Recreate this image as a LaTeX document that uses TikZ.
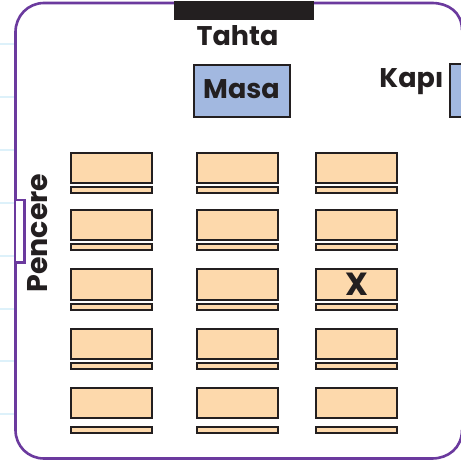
\documentclass[tikz,border=0pt]{standalone}
\usepackage{fontspec}
\setmainfont{Poppins}[BoldFont={Poppins Bold}]
\definecolor{wall}{HTML}{6B3A9E}
\definecolor{ink}{HTML}{231F20}
\definecolor{desk}{HTML}{FDD9AC}
\definecolor{blue}{HTML}{A2B8E0}
\definecolor{tick}{HTML}{DDF1FA}
\tikzset{
  x=1pt,y=-1pt,
  wallline/.style={draw=wall,line width=2.6pt},
  furn/.style={draw=ink,line width=2pt,fill=desk},
  bluebox/.style={draw=ink,line width=2pt,fill=blue},
  lbl/.style={text=ink,font=\bfseries\fontsize{27}{29}\selectfont,inner sep=0pt},
  ticks/.style={draw=tick,line width=2.2pt}
}
\begin{document}
\begin{tikzpicture}
\useasboundingbox (0,0) rectangle (460,462);
\fill[white] (0,0) rectangle (460,462);
\foreach \yy in {44,97,150,203,256,309,361,414}
  \draw[ticks] (0,\yy) -- (15,\yy);
\draw[wallline] (462,30) .. controls (462,12) and (448,3) .. (432,3) -- (44,3)
  .. controls (28,3) and (15.5,16) .. (15.5,32) -- (15.5,430)
  .. controls (15.5,446) and (28,458.5) .. (44,458.5) -- (432,458.5)
  .. controls (448,458.5) and (462,448) .. (462,430);
\draw[wallline,line width=2.2pt,fill=white] (15.5,200) -- (24.5,200) -- (24.5,262.5) -- (15.5,262.5);
\fill[ink] (174,1.5) rectangle (314,20);
\draw[bluebox] (194,65.5) rectangle (290,117.5);
\draw[bluebox] (462,64.5) -- (450,64.5) -- (450,117.5) -- (462,117.5);
\foreach \cx in {71,197,316}
  \foreach \ta/\tb/\sa/\sb in {153/183/187/193,210/240/244/250,269/299.5/303.5/309.5,328.5/358.5/363/369,388/418/426.5/432.5}
  {
    \draw[furn] (\cx,\ta) rectangle ++(80.5,\tb-\ta);
    \draw[furn] (\cx,\sa) rectangle ++(80.5,\sb-\sa);
  }
\node[lbl] (tahta) at (237.5,36) {Tahta};
\node[lbl] (masa) at (241.5,89) {Masa};
\node[lbl] (kapi) at (411.5,82) {Kapı};
\node[lbl,rotate=90,font=\bfseries\fontsize{28.5}{30}\selectfont] (pencere) at (38,233) {Pencere};
\node[lbl,font=\bfseries\fontsize{32}{34}\selectfont] (x) at (356.5,284) {X};
\end{tikzpicture}
\end{document}
